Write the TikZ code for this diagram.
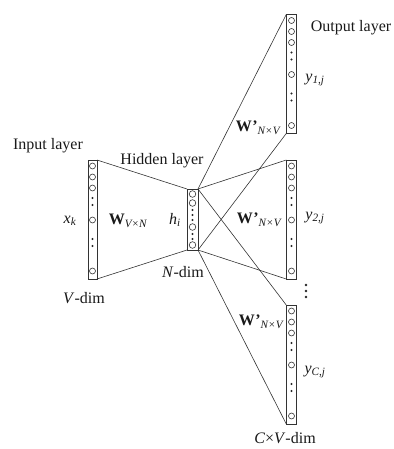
\documentclass[tikz,border=0pt]{standalone}
\usepackage{fontspec}
\setmainfont{Liberation Serif}
\begin{document}
\begin{tikzpicture}[x=1pt,y=-1pt,
  lyr/.style={draw=black!80, line width=0.7pt, fill=white, inner sep=0pt, outer sep=0pt, minimum width=10.5pt, minimum height=119pt},
  hidbox/.style={lyr, minimum width=11pt, minimum height=61pt},
  wire/.style={draw=black!80, line width=0.6pt},
  unit/.style={draw=black!80, line width=0.6pt},
  lbl/.style={inner sep=0pt, font=\fontsize{16}{19}\selectfont, text=black!90},
  sub/.style={}]
\useasboundingbox (0,0) rectangle (393,449);

% layer boxes
\node[lyr, minimum width=9pt] (inp) at (92.5,219.5) {};
\node[hidbox] (hid) at (192.5,219.5) {};
\node[lyr] (o1) at (291.5,74) {};
\node[lyr] (o2) at (291.5,219.5) {};
\node[lyr] (o3) at (291.5,364.5) {};

% connections
\draw[wire] (inp.north east) -- (hid.north west);
\draw[wire] (inp.south east) -- (hid.south west);
\foreach \o in {o1,o2,o3}{
  \draw[wire] (hid.north east) -- (\o.north west);
  \draw[wire] (hid.south east) -- (\o.south west);
}

% units in long layers
\foreach \b in {inp,o1,o2,o3}{
  \foreach \d in {6,17,28,60,111}
    \draw[unit] ([yshift=-\d pt]\b.north) circle (3pt);
  \foreach \d in {38,45,79,86}
    \fill[black!85] ([yshift=-\d pt]\b.north) circle (1.1pt);
}
% units in hidden layer
\foreach \d in {5,14,38,56}
  \draw[unit] ([yshift=-\d pt]hid.north) circle (3.3pt);
\foreach \d in {21,26,31,45,50}
  \fill[black!85] ([yshift=-\d pt]hid.north) circle (1.1pt);

% vertical dots between output layers
\foreach \d in {285,291,297}
  \fill[black!85] (306,\d) circle (1.3pt);

% labels
\node[lbl] (tin) at (48,146) {Input layer};
\node[lbl] (thid) at (162,161) {Hidden layer};
\node[lbl] (tout) at (351,28) {Output layer};
\node[lbl] (txk) at (70,221) {\itshape x\textsubscript{k}};
\node[lbl] (tw) at (128,221) {\textbf{W}\textsubscript{\itshape V×N}};
\node[lbl] (thi) at (175,220) {\itshape h\textsubscript{i}};
\node[lbl] (tnd) at (183,272) {\textit{N}-dim};
\node[lbl] (tvd) at (84,298) {\textit{V}-dim};
\node[lbl] (ty1) at (315,80) {\itshape y\textsubscript{1,j}};
\node[lbl] (tw1) at (258,128) {\textbf{W}\kern0.5pt\textbf{'}\textsubscript{\itshape N×V}};
\node[lbl] (ty2) at (315,218) {\itshape y\textsubscript{2,j}};
\node[lbl] (tw2) at (259,220) {\textbf{W}\kern0.5pt\textbf{'}\textsubscript{\itshape N×V}};
\node[lbl] (tw3) at (261,322) {\textbf{W}\kern0.5pt\textbf{'}\textsubscript{\itshape N×V}};
\node[lbl] (tyc) at (315,372) {\itshape y\textsubscript{C,j}};
\node[lbl] (tcv) at (285,438) {\textit{C}×\textit{V}-dim};
\end{tikzpicture}
\end{document}
